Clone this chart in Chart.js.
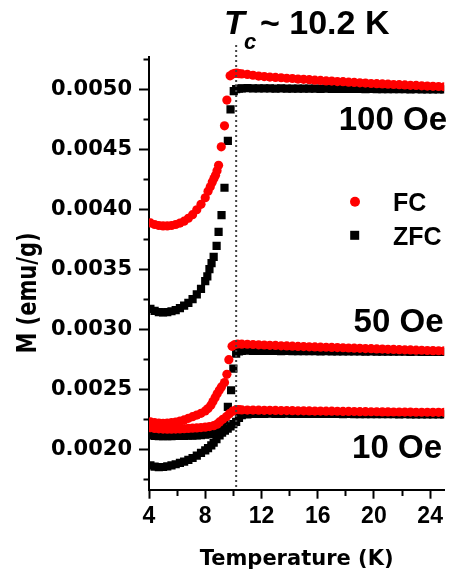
<!DOCTYPE html>
<html>
<head>
<meta charset="utf-8">
<script src="https://cdn.jsdelivr.net/npm/chart.js@4/dist/chart.umd.min.js"></script>
<style>
  html, body { margin: 0; padding: 0; background: #fff; }
</style>
</head>
<body>
<canvas id="mtChart" width="450" height="578"></canvas>
<script>
// temperature grids (K) shared by all curves
const tLow = [4.1, 4.4, 4.7, 5.0, 5.3, 5.6, 5.9, 6.2, 6.5, 6.8, 7.1, 7.4, 7.7, 8.0];
const tHigh = [10.6, 11.0, 11.4, 11.8, 12.2, 12.6, 13.0, 13.4, 13.8, 14.2, 14.6, 15.0, 15.4,
  15.8, 16.2, 16.6, 17.0, 17.4, 17.8, 18.2, 18.6, 19.0, 19.4, 19.8, 20.2, 20.6, 21.0, 21.4,
  21.8, 22.2, 22.6, 23.0, 23.4, 23.8, 24.2, 24.6, 25.0];

// 100 Oe
const fc100Low = [0.003885, 0.003872, 0.003864, 0.003860, 0.003860, 0.003864, 0.003872, 0.003884, 0.003900, 0.003924, 0.003954, 0.003995, 0.004040, 0.004095];
const fc100MidT = [8.2, 8.36, 8.5, 8.62, 8.73, 8.84, 8.95, 9.14, 9.37, 9.54, 9.77, 9.95, 10.1, 10.25, 10.4];
const fc100Mid = [0.004150, 0.004186, 0.004225, 0.004255, 0.004283, 0.004320, 0.004365, 0.004519, 0.004694, 0.004908, 0.005110, 0.005125, 0.005130, 0.005132, 0.005128];
const fc100High = [0.005126, 0.005122, 0.005115, 0.005108, 0.005104, 0.005100, 0.005097, 0.005094, 0.005090, 0.005088, 0.005083, 0.005081, 0.005078, 0.005074, 0.005072, 0.005068, 0.005066, 0.005062, 0.005061, 0.005057, 0.005055, 0.005052, 0.005050, 0.005046, 0.005045, 0.005043, 0.005041, 0.005038, 0.005036, 0.005034, 0.005031, 0.005030, 0.005027, 0.005025, 0.005023, 0.005021, 0.005019];

const zfc100Low = [0.003170, 0.003153, 0.003143, 0.003140, 0.003143, 0.003150, 0.003160, 0.003176, 0.003196, 0.003220, 0.003250, 0.003290, 0.003336, 0.003400];
const zfc100MidT = [8.15, 8.3, 8.45, 8.6, 8.81, 8.95, 9.16, 9.37, 9.61, 9.8, 10.03, 10.2, 10.4];
const zfc100Mid = [0.003440, 0.003500, 0.003550, 0.003603, 0.003694, 0.003811, 0.003950, 0.004178, 0.004569, 0.004830, 0.004983, 0.005000, 0.005004];
const zfc100High = [0.005006, 0.005007, 0.005006, 0.005005, 0.005006, 0.005005, 0.005004, 0.005005, 0.005004, 0.005004, 0.005003, 0.005004, 0.005003, 0.005003, 0.005002, 0.005003, 0.005002, 0.005002, 0.005001, 0.005002, 0.005001, 0.005001, 0.005000, 0.005001, 0.005000, 0.005000, 0.004999, 0.005000, 0.004999, 0.004999, 0.004998, 0.004999, 0.004998, 0.004998, 0.004997, 0.004998, 0.004997];

// 50 Oe
const fc50Low = [0.002228, 0.002222, 0.002218, 0.002217, 0.002218, 0.002222, 0.002227, 0.002235, 0.002245, 0.002258, 0.002272, 0.002285, 0.002300, 0.002320];
const fc50MidT = [8.2, 8.4, 8.55, 8.7, 8.85, 9.0, 9.15, 9.37, 9.54, 9.68, 9.91, 10.1, 10.3];
const fc50Mid = [0.002340, 0.002368, 0.002398, 0.002430, 0.002462, 0.002492, 0.002520, 0.002556, 0.002625, 0.002747, 0.002858, 0.002873, 0.002877];
const fc50High = [0.002876, 0.002875, 0.002873, 0.002870, 0.002869, 0.002866, 0.002865, 0.002862, 0.002861, 0.002859, 0.002857, 0.002856, 0.002854, 0.002853, 0.002851, 0.002850, 0.002849, 0.002847, 0.002846, 0.002844, 0.002842, 0.002841, 0.002839, 0.002838, 0.002836, 0.002835, 0.002833, 0.002832, 0.002830, 0.002829, 0.002828, 0.002826, 0.002825, 0.002823, 0.002822, 0.002821, 0.002820];

const zfc50Low = [0.002118, 0.002113, 0.002110, 0.002109, 0.002110, 0.002110, 0.002111, 0.002112, 0.002113, 0.002114, 0.002115, 0.002117, 0.002119, 0.002122];
const zfc50MidT = [8.3, 8.6, 8.85, 9.02, 9.2, 9.37, 9.61, 9.84, 10.0, 10.2, 10.4];
const zfc50Mid = [0.002127, 0.002135, 0.002146, 0.002158, 0.002190, 0.002242, 0.002353, 0.002492, 0.002672, 0.002797, 0.002815];
const zfc50High = [0.002820, 0.002821, 0.002820, 0.002820, 0.002819, 0.002820, 0.002819, 0.002818, 0.002819, 0.002818, 0.002818, 0.002817, 0.002818, 0.002817, 0.002816, 0.002817, 0.002816, 0.002816, 0.002815, 0.002816, 0.002815, 0.002815, 0.002814, 0.002815, 0.002814, 0.002814, 0.002813, 0.002814, 0.002813, 0.002813, 0.002812, 0.002813, 0.002812, 0.002812, 0.002811, 0.002812, 0.002811];

// 10 Oe
const fc10Low = [0.002180, 0.002174, 0.002171, 0.002169, 0.002168, 0.002168, 0.002169, 0.002170, 0.002172, 0.002174, 0.002176, 0.002178, 0.002181, 0.002185];
const fc10MidT = [8.3, 8.6, 8.85, 9.02, 9.25, 9.5, 9.72, 9.95, 10.2, 10.4];
const fc10Mid = [0.002190, 0.002197, 0.002210, 0.002228, 0.002250, 0.002272, 0.002297, 0.002318, 0.002330, 0.002330];
const fc10High = [0.002328, 0.002327, 0.002327, 0.002326, 0.002325, 0.002325, 0.002324, 0.002323, 0.002323, 0.002322, 0.002321, 0.002321, 0.002320, 0.002319, 0.002319, 0.002318, 0.002318, 0.002317, 0.002316, 0.002316, 0.002315, 0.002314, 0.002314, 0.002313, 0.002313, 0.002312, 0.002312, 0.002311, 0.002311, 0.002310, 0.002310, 0.002309, 0.002309, 0.002309, 0.002308, 0.002308, 0.002308];

const zfc10Low = [0.001867, 0.001856, 0.001852, 0.001853, 0.001858, 0.001866, 0.001876, 0.001888, 0.001898, 0.001912, 0.001928, 0.001948, 0.001970, 0.001992];
const zfc10MidT = [8.2, 8.43, 8.6, 8.8, 9.02, 9.2, 9.4, 9.6, 9.8, 10.0, 10.2, 10.4];
const zfc10Mid = [0.002010, 0.002033, 0.002055, 0.002085, 0.002117, 0.002138, 0.002156, 0.002172, 0.002192, 0.002210, 0.002228, 0.002262];
const zfc10High = [0.002285, 0.002292, 0.002295, 0.002296, 0.002296, 0.002297, 0.002296, 0.002296, 0.002297, 0.002296, 0.002296, 0.002295, 0.002296, 0.002295, 0.002295, 0.002296, 0.002295, 0.002295, 0.002294, 0.002295, 0.002294, 0.002294, 0.002294, 0.002293, 0.002294, 0.002293, 0.002293, 0.002293, 0.002292, 0.002293, 0.002292, 0.002292, 0.002292, 0.002291, 0.002292, 0.002291, 0.002291];

// axes
const xTickValues = [4, 6, 8, 10, 12, 14, 16, 18, 20, 22, 24];
const xLabelValues = [4, 8, 12, 16, 20, 24];
const yTickValues = [0.00175, 0.0020, 0.00225, 0.0025, 0.00275, 0.0030, 0.00325, 0.0035, 0.00375, 0.0040, 0.00425, 0.0045, 0.00475, 0.0050, 0.00525];
const yLabelValues = [0.0020, 0.0025, 0.0030, 0.0035, 0.0040, 0.0045, 0.0050];
const tcValue = 10.2;

const fieldLabels = ["100 Oe", "50 Oe", "10 Oe"];
const legendLabels = ["FC", "ZFC"];

function toPoints(low, midT, mid, high) {
    const pts = tLow.map((t, i) => ({ x: t, y: low[i] }));
    midT.forEach((t, i) => pts.push({ x: t, y: mid[i] }));
    tHigh.forEach((t, i) => pts.push({ x: t, y: high[i] }));
    return pts;
}

const RED = "#ff0000";
const BLACK = "#000000";

function fcSet(pts) {
    return { data: pts, showLine: false, pointStyle: "circle", pointRadius: 4.6,
        pointBorderWidth: 0, backgroundColor: RED, borderColor: RED };
}
function zfcSet(pts) {
    return { data: pts, showLine: false, pointStyle: "rect", pointRadius: 5.8,
        pointBorderWidth: 0, backgroundColor: BLACK, borderColor: BLACK };
}

const tickFontY = { family: "DejaVu Sans", size: 21, weight: "bold" };
const tickFontX = { family: "Liberation Sans", size: 23, weight: "bold" };
const titleFont = { family: "DejaVu Sans", size: 21, weight: "bold" };

// dotted Tc line, field labels, legend, y title
const overlay = {
    id: "overlay",
    afterDatasetsDraw(chart) {
        const { ctx, chartArea, scales } = chart;
        const xc = scales.x.getPixelForValue(tcValue);
        ctx.save();
        ctx.strokeStyle = "#444";
        ctx.lineWidth = 2;
        ctx.setLineDash([2, 3]);
        ctx.beginPath();
        ctx.moveTo(xc, 45);
        ctx.lineTo(xc, chartArea.bottom);
        ctx.stroke();
        ctx.restore();
    },
    afterDraw(chart) {
        const ctx = chart.ctx;
        ctx.save();
        ctx.fillStyle = "#000";
        ctx.textBaseline = "alphabetic";

        // Tc label
        ctx.textAlign = "left";
        ctx.font = "italic bold 34px 'Liberation Sans'";
        ctx.fillText("T", 224, 33.5);
        ctx.font = "italic bold 22px 'Liberation Sans'";
        ctx.fillText("c", 244, 49);
        ctx.font = "bold 34px 'Liberation Sans'";
        ctx.fillText("~ " + tcValue + " K", 260, 33.5);

        // field labels
        ctx.textAlign = "right";
        ctx.font = "bold 33px 'Liberation Sans'";
        ctx.fillText(fieldLabels[0], 447, 129.5);
        ctx.fillText(fieldLabels[1], 443.5, 331.5);
        ctx.fillText(fieldLabels[2], 442, 458.3);

        // legend
        ctx.fillStyle = RED;
        ctx.beginPath();
        ctx.arc(355, 201.7, 5, 0, Math.PI * 2);
        ctx.fill();
        ctx.fillStyle = BLACK;
        ctx.fillRect(350.2, 230.8, 9, 9);
        ctx.textAlign = "left";
        ctx.font = "bold 25px 'Liberation Sans'";
        ctx.fillText(legendLabels[0], 393, 210.7);
        ctx.fillText(legendLabels[1], 393, 245);

        // y axis title (glyphs a bit wider across, as in the original)
        ctx.translate(29, 293);
        ctx.scale(1.25, 1);
        ctx.rotate(-Math.PI / 2);
        ctx.textAlign = "center";
        ctx.textBaseline = "middle";
        ctx.font = "bold 21px 'DejaVu Sans'";
        ctx.fillText("M (emu/g)", 0, 0);
        ctx.restore();
    }
};

new Chart(document.getElementById("mtChart"), {
    type: "scatter",
    data: {
        datasets: [
            fcSet(toPoints(fc100Low, fc100MidT, fc100Mid, fc100High)),
            fcSet(toPoints(fc50Low, fc50MidT, fc50Mid, fc50High)),
            fcSet(toPoints(fc10Low, fc10MidT, fc10Mid, fc10High)),
            zfcSet(toPoints(zfc100Low, zfc100MidT, zfc100Mid, zfc100High)),
            zfcSet(toPoints(zfc50Low, zfc50MidT, zfc50Mid, zfc50High)),
            zfcSet(toPoints(zfc10Low, zfc10MidT, zfc10Mid, zfc10High))
        ]
    },
    options: {
        responsive: false,
        animation: false,
        devicePixelRatio: 1,
        layout: { padding: { top: 56.5, right: 4, left: 0, bottom: 0 } },
        plugins: {
            legend: { display: false },
            tooltip: { enabled: false }
        },
        scales: {
            x: {
                type: "linear",
                position: "bottom",
                min: 4,
                max: 25,
                afterBuildTicks: s => { s.ticks = xTickValues.map(v => ({ value: v })); },
                afterFit: s => { s.height = 88.3; },
                grid: {
                    display: true,
                    drawOnChartArea: false,
                    drawTicks: true,
                    tickLength: 9,
                    tickWidth: 2,
                    tickColor: "#000",
                    tickBorderDash: c => (c.tick && !xLabelValues.includes(c.tick.value)) ? [5, 20] : []
                },
                border: { display: true, color: "#000", width: 2 },
                ticks: {
                    autoSkip: false,
                    maxRotation: 0,
                    padding: 4,
                    color: "#000",
                    font: tickFontX,
                    callback: v => xLabelValues.includes(v) ? String(v) : ""
                },
                title: {
                    display: true,
                    text: "Temperature (K)",
                    color: "#000",
                    font: titleFont,
                    padding: { top: 0, bottom: 5.4 }
                }
            },
            y: {
                type: "linear",
                position: "left",
                min: 0.001664,
                max: 0.005271,
                afterBuildTicks: s => { s.ticks = yTickValues.map(v => ({ value: v })); },
                afterFit: s => { s.width = 149; },
                grid: {
                    display: true,
                    drawOnChartArea: false,
                    drawTicks: true,
                    tickLength: 10,
                    tickWidth: 2,
                    tickColor: "#000",
                    tickBorderDash: c => (c.tick && !yLabelValues.includes(c.tick.value)) ? [0, 4.5, 20] : []
                },
                border: { display: true, color: "#000", width: 2 },
                ticks: {
                    autoSkip: false,
                    padding: 7,
                    color: "#000",
                    font: tickFontY,
                    callback: v => yLabelValues.includes(v) ? v.toFixed(4) : ""
                },
                title: { display: false }
            }
        }
    },
    plugins: [overlay]
});
</script>
</body>
</html>
